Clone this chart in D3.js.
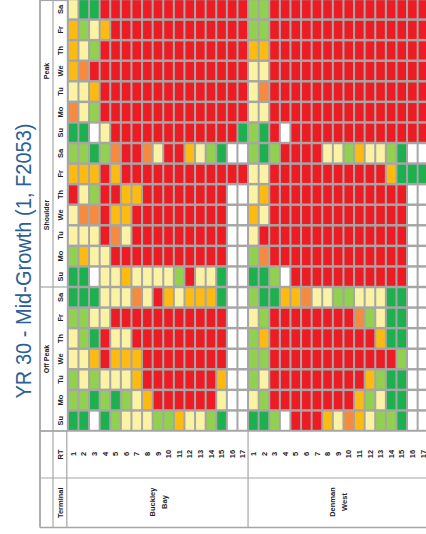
<!DOCTYPE html>
<html>
<head>
<meta charset="utf-8">
<script src="https://cdn.jsdelivr.net/npm/d3@7"></script>
<style>
  html, body { margin: 0; padding: 0; background: #fff; overflow: hidden; }
  svg { display: block; }
  text { font-family: "Liberation Sans", Arial, sans-serif; fill: #222; }
</style>
</head>
<body>
<div id="chart"></div>
<script>
// level code -> cell colour
const levelColors = {
  R: "#ed1c24",
  O: "#f68b3f",
  A: "#fdbb12",
  Y: "#fbf3a3",
  L: "#92d050",
  G: "#1db04e",
  W: "#ffffff"
};

const title = "YR 30 - Mid-Growth (1, F2053)";
const terminals = ["Buckley Bay", "Denman West"];
const routes = [1, 2, 3, 4, 5, 6, 7, 8, 9, 10, 11, 12, 13, 14, 15, 16, 17];
const seasons = ["Off Peak", "Shoulder", "Peak"];
const days = ["Su", "Mo", "Tu", "We", "Th", "Fr", "Sa"];

// one code per route, Buckley Bay 1-17 then Denman West 1-17, rows in day order Su..Sa
const offPeakLevels = [
  "GGWGLYYYLLAYYLGWW GGLWRRRAYOAYLLGWW",
  "LLGLGLYARRRRRRYWW YLRRRRRRRRALYGGWW",
  "LYLYYYARRRRRRRAWW LYRRRRRRRRRALGGWW",
  "YYARAAARRRRRRRRWW LLRRRRRRRRRRRRLWW",
  "YLGRYYRRRRRRRRRWW LARRRRRRRRRRAGGWW",
  "LLYYRRRRRRRRRRRWW YLRRRRRRRROLYGGWW",
  "GGGYYYOYRAYAAAGWW LGGAAOYYLLYYYGGWW"
];
const shoulderLevels = [
  "GGWYYAYYYYLRYYGWW GGLWRRRRRRRRRRRWW",
  "LAYYRRRRRRRRRRRWW LORRRRRRRRRRRRRWW",
  "YYYROYRRRRRRRRRWW YRRRRRRRRRRRRRRWW",
  "YOORAARRRRRRRRRWW AYRRRRRRRRRRRRRWW",
  "RYLRRAARRRRRRRRWW YARRRRRRRRRRRRRWW",
  "AAARARRRRRRRRRRRR YYRRRRRRRRRRRAGGG",
  "LLGLORROYRRAYLGWW LGLRRRRYYLAYYLGWW"
];
const peakLevels = [
  "GGWYRRRRRRRRRRRRG LGRWRRRRRRRRRRRRR",
  "OYLRRRRRRRRRRRRRR YYRRRRRRRRRRRRRRR",
  "YYARRRRRRRRRRRRRR YORRRRRRRRRRRRRRR",
  "AORRRRRRRRRRRRRRR YYRRRRRRRRRRRRRRR",
  "AYLRRRRRRRRRRRRRR AARRRRRRRRRRRRRRR",
  "ALYARRRRRRRRRRRRR LLRRRRRRRRRRRRRRR",
  "YGGRRRRRRRRRRRRRR LLRRRRRRRRRRRRRRR"
];
const levelsBySeason = { "Off Peak": offPeakLevels, "Shoulder": shoulderLevels, "Peak": peakLevels };

const width = 426, height = 534;
const lineColor = "#a6a6a6";

const svg = d3.select("#chart").append("svg")
  .attr("width", width)
  .attr("height", height);

// table is turned a quarter: routes run left->right, day columns run bottom->top
const colKeys = terminals.flatMap(t => routes.map(r => t + "|" + r));
const rowKeys = seasons.slice().reverse().flatMap(s => days.slice().reverse().map(d => s + "|" + d));

const x = d3.scaleBand().domain(colKeys).range([67.8, 428.3]).paddingInner(0.19).paddingOuter(0.1);
const y = d3.scaleBand().domain(rowKeys).range([-1, 431]).paddingInner(0.12).paddingOuter(0.06);
const xGap = (x.step() - x.bandwidth()) / 2;
const yGap = (y.step() - y.bandwidth()) / 2;

const gridLeft = x.range()[0] - 1, gridBottom = y.range()[1];
const rtBottom = 478, tableBottom = 527.5;
const seasonLeft = 40, dayLeft = 53;

// cells
const cells = [];
seasons.forEach(s => {
  levelsBySeason[s].forEach((row, i) => {
    const codes = row.replace(" ", "").split("");
    codes.forEach((c, j) => cells.push({ row: s + "|" + days[i], col: colKeys[j], code: c }));
  });
});

svg.append("rect")
  .attr("x", gridLeft)
  .attr("y", -2)
  .attr("width", width - gridLeft + 4)
  .attr("height", gridBottom + 2)
  .attr("fill", lineColor);

svg.append("g").selectAll("rect")
  .data(cells)
  .join("rect")
  .attr("x", d => x(d.col))
  .attr("y", d => y(d.row))
  .attr("width", x.bandwidth())
  .attr("height", y.bandwidth())
  .attr("fill", d => levelColors[d.code]);

// table rules
const lines = svg.append("g").attr("stroke", lineColor).attr("fill", "none");
const rule = (x1, y1, x2, y2, w) => lines.append("line")
  .attr("x1", x1).attr("y1", y1).attr("x2", x2).attr("y2", y2)
  .attr("stroke-width", w || 1.2);

rule(seasonLeft, 0, seasonLeft, tableBottom, 1.8);
rule(dayLeft, 0, dayLeft, tableBottom);
rule(gridLeft, gridBottom, gridLeft, tableBottom);
rule(seasonLeft, 0.5, gridLeft, 0.5);
rule(seasonLeft, gridBottom, width, gridBottom, 1.5);
rule(seasonLeft, rtBottom, width, rtBottom);
rule(seasonLeft, tableBottom, width, tableBottom, 1.5);
const splitX = x(terminals[1] + "|" + routes[0]) - xGap;
rule(splitX, gridBottom, splitX, tableBottom);
seasons.slice(0, 2).forEach(s => {
  const yy = y(s + "|" + days[0]) + y.bandwidth() + yGap;
  rule(seasonLeft, yy, gridLeft, yy);
});

// rotated text helper
function vtext(g, cx, cy, txt, size, weight) {
  return g.append("text")
    .attr("transform", `translate(${cx},${cy}) rotate(-90)`)
    .attr("text-anchor", "middle")
    .attr("dy", "0.35em")
    .attr("font-size", size)
    .attr("font-weight", weight || "bold")
    .text(txt);
}

const labels = svg.append("g");

// day labels
rowKeys.forEach(k => {
  vtext(labels, (dayLeft + gridLeft) / 2, y(k) + y.bandwidth() / 2, k.split("|")[1], 7.5);
});

// season labels
seasons.forEach(s => {
  const top = y(s + "|" + days[6]), bot = y(s + "|" + days[0]) + y.bandwidth();
  vtext(labels, (seasonLeft + dayLeft) / 2 + 0.5, (top + bot) / 2, s, 7);
});

// header labels
vtext(labels, (dayLeft + gridLeft) / 2, (gridBottom + rtBottom) / 2, "RT", 7.5);
vtext(labels, (dayLeft + gridLeft) / 2, (rtBottom + tableBottom) / 2, "Terminal", 7.5);

// route numbers
colKeys.forEach(k => {
  vtext(labels, x(k) + x.bandwidth() / 2, 454, k.split("|")[1], 7.5);
});

// terminal names, two lines each
terminals.forEach(t => {
  const x0 = x(t + "|" + routes[0]), x1 = x(t + "|" + routes[routes.length - 1]) + x.bandwidth();
  const words = t.split(" ");
  const cx = (x0 + x1) / 2;
  words.forEach((w, i) => {
    vtext(labels, cx - 6 + i * 12, 502, w, 7.5);
  });
});

// title
svg.append("text")
  .attr("transform", `translate(31,261) rotate(-90)`)
  .attr("text-anchor", "middle")
  .attr("font-size", 22)
  .attr("textLength", 275)
  .attr("lengthAdjust", "spacingAndGlyphs")
  .style("fill", "#2e5f94")
  .text(title);
</script>
</body>
</html>
